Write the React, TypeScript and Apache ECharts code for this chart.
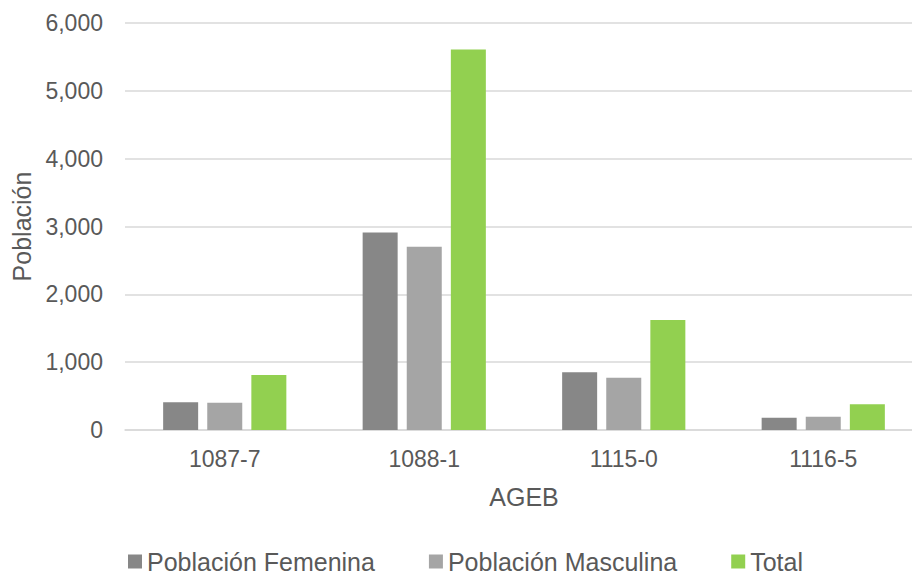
import React, { useEffect, useRef } from "react";
import * as echarts from "echarts";

const categories = ["1087-7", "1088-1", "1115-0", "1116-5"];
const femenina = [410, 2910, 850, 180];
const masculina = [400, 2700, 770, 195];
const total = [810, 5610, 1620, 380];
const seriesNames = ["Población Femenina", "Población Masculina", "Total"];
const colors = ["#878787", "#A5A5A5", "#92D050"];

export default function App() {
  const ref = useRef<HTMLDivElement>(null);
  useEffect(() => {
    if (!ref.current) return;
    const chart = echarts.init(ref.current, null, { renderer: "svg" });
    const font = "'Liberation Sans', Arial, sans-serif";
    const mk = (name: string, data: number[], color: string) => ({
      name,
      type: "bar",
      data,
      barWidth: 35,
      barGap: "26%",
      itemStyle: { color },
    });
    chart.setOption({
      animation: false,
      textStyle: { fontFamily: font },
      color: colors,
      grid: {
        left: 125,
        right: -11,
        top: 23,
        bottom: 145,
        containLabel: false,
        outerBoundsMode: "none",
      },
      legend: {
        top: 549,
        left: 128,
        padding: 0,
        itemWidth: 14,
        itemHeight: 14,
        itemGap: 54,
        icon: "rect",
        textStyle: {
          fontFamily: font,
          fontSize: 25,
          lineHeight: 20,
          color: "#595959",
          padding: [0, 0, 0, 0],
        },
        data: seriesNames,
      },
      xAxis: {
        type: "category",
        data: categories,
        name: "AGEB",
        nameLocation: "middle",
        nameGap: 54,
        nameTextStyle: { fontFamily: font, fontSize: 25, color: "#595959" },
        axisLine: { lineStyle: { color: "#d9d9d9", width: 1.5 } },
        axisTick: { show: false },
        axisLabel: { fontFamily: font, fontSize: 23, color: "#595959", margin: 17 },
      },
      yAxis: {
        type: "value",
        min: 0,
        max: 6000,
        interval: 1000,
        name: "Población",
        nameLocation: "middle",
        nameGap: 91,
        nameTextStyle: { fontFamily: font, fontSize: 25, color: "#595959" },
        axisLine: { show: false },
        axisTick: { show: false },
        splitLine: { lineStyle: { color: "#d9d9d9", width: 1.5 } },
        axisLabel: {
          fontFamily: font,
          fontSize: 23,
          color: "#595959",
          margin: 22,
          formatter: (v: number) => v.toLocaleString("en-US"),
        },
      },
      series: [
        mk(seriesNames[0], femenina, colors[0]),
        mk(seriesNames[1], masculina, colors[1]),
        mk(seriesNames[2], total, colors[2]),
      ],
    });
    return () => chart.dispose();
  }, []);
  return <div ref={ref} style={{ width: 912, height: 575, position: "absolute", left: 0, top: 0 }} />;
}
